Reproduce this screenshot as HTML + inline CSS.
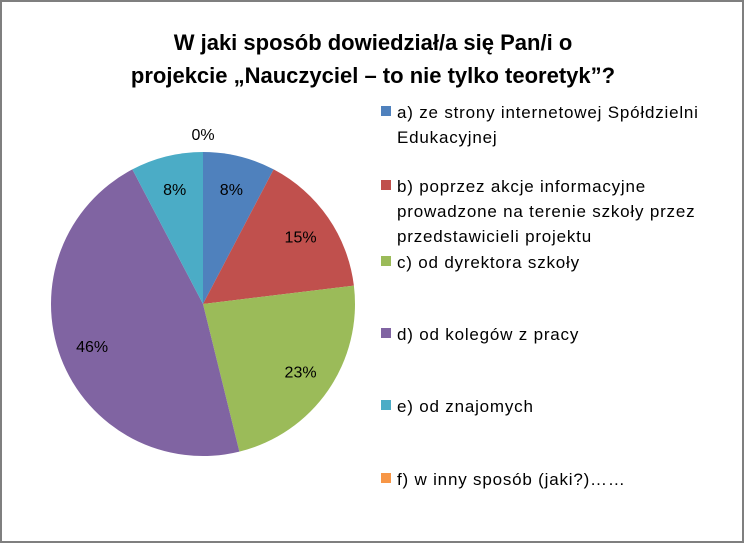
<!DOCTYPE html>
<html><head><meta charset="utf-8"><style>
html,body{margin:0;padding:0;background:#fff}
svg{display:block;font-family:"Liberation Sans",sans-serif}
</style></head><body>
<svg width="746" height="545" viewBox="0 0 746 545">
<rect x="1" y="1" width="742" height="541" fill="#fff" stroke="#7f7f7f" stroke-width="2"/>
<text x="373" y="50" text-anchor="middle" font-size="22" font-weight="bold">W jaki sposób dowiedział/a się Pan/i  o</text>
<text x="373" y="83" text-anchor="middle" font-size="22" font-weight="bold">projekcie „Nauczyciel – to nie tylko teoretyk”?</text>
<g id="slices"></g>
<g id="labels"></g>
<g id="legend"></g>
</svg>
<script>
const categories=["a) ze strony internetowej Spółdzielni|Edukacyjnej","b) poprzez akcje informacyjne|prowadzone na terenie szkoły przez|przedstawicieli projektu","c) od dyrektora szkoły","d) od kolegów z pracy","e) od znajomych","f) w inny sposób (jaki?)……"];
const values=[1,2,3,6,1,0];
const colors=["#4F81BD","#C0504D","#9BBB59","#8064A2","#4BACC6","#F79646"];
const legendY=[112,186,262,334,406,479];
const NS="http://www.w3.org/2000/svg";
const cx=203,cy=304,r=152;
const total=values.reduce((a,b)=>a+b,0);
const sg=document.getElementById('slices'),lg=document.getElementById('labels'),leg=document.getElementById('legend');
let a0=0;
values.forEach((v,i)=>{
  const a1=a0+v/total*2*Math.PI;
  const pt=a=>[cx+r*Math.sin(a),cy-r*Math.cos(a)];
  if(v>0){
    const p=document.createElementNS(NS,'path');
    const [x0,y0]=pt(a0),[x1,y1]=pt(a1);
    p.setAttribute('d',`M${cx},${cy}L${x0},${y0}A${r},${r} 0 ${a1-a0>Math.PI?1:0} 1 ${x1},${y1}Z`);
    p.setAttribute('fill',colors[i]);
    
    
    sg.appendChild(p);
  }
  const am=(a0+a1)/2;
  const rr=v>0?r*0.78:r*1.12;
  const t=document.createElementNS(NS,'text');
  t.setAttribute('x',cx+rr*Math.sin(am));
  t.setAttribute('y',cy-rr*Math.cos(am)+6);
  t.setAttribute('text-anchor','middle');
  t.setAttribute('font-size','16');
  t.textContent=Math.round(v/total*100)+'%';
  
  
  lg.appendChild(t);
  const y=legendY[i];
  const s=document.createElementNS(NS,'rect');
  s.setAttribute('x',381);s.setAttribute('y',y-6);s.setAttribute('width',10);s.setAttribute('height',10);
  s.setAttribute('fill',colors[i]);
  
  
  leg.appendChild(s);
  categories[i].split('|').forEach((line,k)=>{
    const lt=document.createElementNS(NS,'text');
    lt.setAttribute('x',397);lt.setAttribute('y',y+6+k*25);
    lt.setAttribute('font-size','17');
    lt.setAttribute('letter-spacing','0.8');
    lt.textContent=line;
    
    
    leg.appendChild(lt);
  });
  a0=a1;
});
</script>
</body></html>
